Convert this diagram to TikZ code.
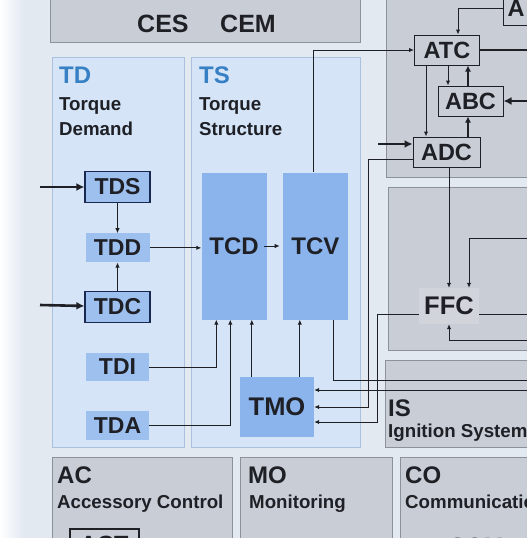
\documentclass[tikz,border=0pt]{standalone}
\usepackage{fontspec}
\setmainfont{Liberation Sans}
\usepackage{xcolor}
\usepackage{tikz}
\usetikzlibrary{positioning,arrows.meta,calc}
\definecolor{pagebg}{RGB}{226,233,241}
\definecolor{greybox}{RGB}{201,205,213}
\definecolor{greyline}{RGB}{140,146,156}
\definecolor{paleblue}{RGB}{213,229,247}
\definecolor{paleline}{RGB}{170,192,220}
\definecolor{midblue}{RGB}{158,192,238}
\definecolor{deepblue}{RGB}{140,180,236}
\definecolor{inkblue}{RGB}{25,40,80}
\definecolor{titleblue}{RGB}{55,128,196}
\definecolor{ink}{RGB}{30,32,38}
\tikzset{
  grp/.style   ={draw=greyline, fill=greybox, line width=0.8pt, anchor=north west, inner sep=0pt},
  tgrp/.style  ={draw=paleline, fill=paleblue, line width=0.8pt, anchor=north west, inner sep=0pt},
  blk/.style   ={draw=inkblue, fill=midblue, line width=1.3pt, text=ink, inner sep=0pt,
                 font=\fontsize{23}{23}\selectfont\bfseries, minimum width=65pt, minimum height=31pt},
  sblk/.style  ={fill=midblue, text=ink, inner sep=0pt,
                 font=\fontsize{23}{23}\selectfont\bfseries, minimum width=64pt, minimum height=29pt},
  bblk/.style  ={fill=deepblue, text=ink, inner sep=0pt,
                 font=\fontsize{24}{24}\selectfont\bfseries, minimum width=65pt},
  gblk/.style  ={draw=ink, fill=greybox, line width=1pt, text=ink, inner sep=0pt,
                 font=\fontsize{23.5}{23.5}\selectfont\bfseries, minimum width=65pt, minimum height=30pt},
  ttl/.style   ={anchor=base west, inner sep=0pt, text=titleblue, font=\fontsize{24}{24}\selectfont\bfseries},
  gttl/.style  ={anchor=base west, inner sep=0pt, text=ink, font=\fontsize{24}{24}\selectfont\bfseries},
  sub/.style   ={anchor=base west, inner sep=0pt, text=ink, font=\fontsize{18.7}{18.7}\selectfont\bfseries},
  ln/.style    ={draw=ink, line width=1pt},
  ar/.style    ={-{Latex[length=5pt,width=4.5pt]}, draw=ink, line width=1pt},
  mar/.style   ={-{Latex[length=6pt,width=6pt]}, draw=ink, line width=1.6pt},
  thar/.style  ={-{Latex[length=8pt,width=8pt]}, draw=ink, line width=2.6pt},
  thln/.style  ={draw=ink, line width=2.6pt},
}
\begin{document}
\begin{tikzpicture}[x=1pt,y=-1pt]
\useasboundingbox (0,0) rectangle (527,538);
\clip (0,0) rectangle (527,538);
\fill[pagebg] (0,0) rectangle (527,538);
\shade[left color=white, right color=pagebg] (0,0) rectangle (24,538);

\node[grp,minimum width=310pt,minimum height=52pt] (cesgrp) at (50,-10) {};
\node[grp,minimum width=160pt,minimum height=187pt] (atcgrp) at (386,-10) {};
\node[grp,minimum width=160pt,minimum height=163pt] (ffcgrp) at (388,187) {};
\node[grp,minimum width=160pt,minimum height=87pt] (isgrp) at (385,360) {};
\node[grp,minimum width=180pt,minimum height=100pt] (acgrp) at (52,457) {};
\node[grp,minimum width=152pt,minimum height=100pt] (mogrp) at (240,457) {};
\node[grp,minimum width=150pt,minimum height=100pt] (cogrp) at (400,457) {};
\node[tgrp,minimum width=132pt,minimum height=390pt] (tdgrp) at (52,57) {};
\node[tgrp,minimum width=169pt,minimum height=390pt] (tsgrp) at (191,57) {};

\node[gttl,font=\fontsize{25}{25}\selectfont\bfseries] (ces) at (137,32) {CES};
\node[gttl,font=\fontsize{25}{25}\selectfont\bfseries] (cem) at (220,32) {CEM};
\node[ttl] (tdt) at (59,83) {TD};
\node[sub] (tdt1) at (59,110) {Torque};
\node[sub] (tdt2) at (59,135) {Demand};
\node[ttl] (tst) at (199,83) {TS};
\node[sub] (tst1) at (199,110) {Torque};
\node[sub] (tst2) at (199,135) {Structure};
\node[gttl] (ist) at (388,416) {IS};
\node[sub] (ist1) at (388,437) {Ignition System};
\node[gttl] (act) at (57,483) {AC};
\node[sub] (act1) at (57,508) {Accessory Control};
\node[gttl] (mot) at (248,483) {MO};
\node[sub] (mot1) at (249,508) {Monitoring};
\node[gttl] (cot) at (405,483) {CO};
\node[sub] (cot1) at (405,508) {Communication};

\node[blk] (tds) at (117.5,187) {TDS};
\node[sblk,below=30pt of tds] (tdd) {TDD};
\node[blk,below=28pt of tdd] (tdc) {TDC};
\node[sblk,below=30pt of tdc,minimum width=63pt,minimum height=28pt] (tdi) {TDI};
\node[sblk,below=30pt of tdi,minimum width=63pt] (tda) {TDA};
\node[bblk,minimum height=147pt] (tcd) at (234,246) {TCD};
\node[bblk,minimum height=147pt,right=15pt of tcd,xshift=1pt] (tcv) {TCV};
\node[bblk,minimum width=74pt,minimum height=60pt,font=\fontsize{25.5}{25.5}\selectfont\bfseries] (tmo) at (277,407) {TMO};
\node[gblk] (atc) at (447,50) {ATC};
\node[gblk] (abc) at (470.5,101) {ABC};
\node[gblk,minimum width=67pt] (adc) at (446.5,152) {ADC};
\node[gblk,anchor=west,minimum width=60pt,minimum height=34pt,text width=52pt,align=left,inner xsep=4pt] (afs) at (503,8) {A};
\node[fill=greybox!85!white,text=ink,inner sep=0pt,minimum width=60pt,minimum height=36pt,
      font=\fontsize{25.5}{25.5}\selectfont\bfseries] (ffc) at (449,306) {FFC};
\node[gblk,anchor=north west,minimum width=69pt,line width=1.6pt,text depth=0pt] (actb) at (69,528) {ACT};
\node[text=ink,inner sep=0pt,font=\fontsize{23.5}{23.5}\selectfont\bfseries] (com) at (476,546) {COM};

\coordinate (tdsin) at (40,187);
\coordinate (tdcin) at (40,305);
\draw[thar] (tdsin) -- (tds);
\draw[thar] (tdcin) -- (tdc);
\draw[ar] (tds) -- (tdd);
\draw[ar] (tdc) -- (tdd);
\draw[ar] (tdd.east) -- (tdd.east -| tcd.west);
\draw[ar] ([xshift=-3pt]tcd.east) -- ([xshift=-3pt]tcv.west);
\draw[ar] (tdi.east) -| ($(tcd.south west)+(15,0)$);
\draw[ar] (tda.east) -| ($(tcd.south west)+(29,0)$);
\coordinate (tq1) at ($(tmo.north west)+(12,0)$);
\coordinate (tq2) at ($(tmo.north west)+(60,0)$);
\draw[ar] (tq1) -- (tq1 |- tcd.south);
\draw[ar] (tq2) -- (tq2 |- tcv.south);
\coordinate (tcvout) at ($(tcv.south west)+(50.5,0)$);
\coordinate (tvr) at (540,380);
\draw[ln] (tcvout) |- (tvr);
\coordinate (tcvup) at ($(tcv.north west)+(30.5,0)$);
\draw[ar] (tcvup) |- (atc.west);

\draw[ar] (afs.west) -| ($(atc.north)+(11,0)$);
\coordinate (atcr) at (540,50);
\draw[thln] (atc.east) -- (atcr);
\coordinate (abcr) at (540,101);
\draw[thar] (abcr) -- (abc.east);
\coordinate (aa1) at ($(atc.south)+(1,0)$);
\coordinate (aa2) at ($(abc.north)+(-2.5,0)$);
\coordinate (aa3) at ($(abc.south)+(-2.5,0)$);
\coordinate (aa4) at ($(atc.south west)+(12,0)$);
\draw[ar] (aa1) -- (aa1 |- abc.north);
\draw[mar] (aa2) -- (aa2 |- atc.south);
\draw[mar] (aa3 |- adc.north) -- (aa3);
\draw[ar] (aa4) -- (aa4 |- adc.north);
\coordinate (adcin) at (378,144);
\draw[thar] (adcin) -- (adcin -| adc.west);
\coordinate (adcout) at ($(adc.south west)+(0,-8)$);
\draw[ar] (adcout) -| (368,407) -- (tmo.east);

\coordinate (af1) at ($(adc.south)+(2.5,0)$);
\draw[ar] (af1) -- (af1 |- ffc.north);
\coordinate (ffcr1) at (540,238);
\draw[ar] (ffcr1) -| ($(ffc.north)+(20,0)$);
\coordinate (ffcr2) at (540,340);
\draw[ar] (ffcr2) -| (ffc.south);
\coordinate (ffcl) at ($(ffc.west)+(0,8)$);
\draw[ar] (ffcl) -| (377,422) -- ([yshift=-15pt]tmo.east);
\coordinate (ffcr3) at (540,314);
\draw[ln] (ffcr3 -| ffc.east) -- (ffcr3);
\coordinate (tmor) at (540,390);
\draw[ar] (tmor) -- ([yshift=17pt]tmo.east);
\end{tikzpicture}
\end{document}
